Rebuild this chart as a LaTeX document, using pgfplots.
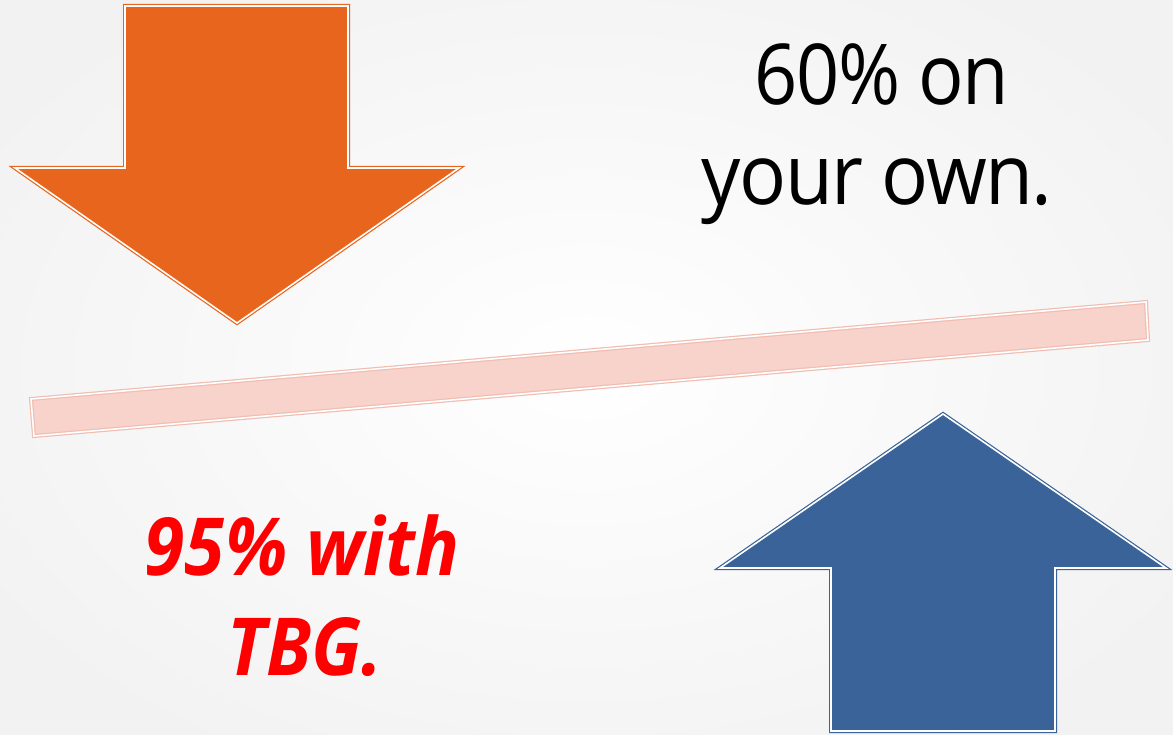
\documentclass[border=0pt]{standalone}
\usepackage{pgfplots}
\pgfplotsset{compat=1.18}
\usepackage{graphicx}
\usepackage{fontspec}
\setmainfont{Open Sans}
\newfontfamily\slidefont[LetterSpace=-2]{Open Sans}
\newfontfamily\redfont{Open Sans}[BoldItalicFont={* Bold Italic}]
\definecolor{arrowOrange}{HTML}{E8651E}
\definecolor{arrowBlue}{HTML}{3A6499}
\definecolor{barPink}{HTML}{F7D3CB}
\definecolor{barEdge}{HTML}{F2BDB1}
\begin{document}
\begin{tikzpicture}
\begin{axis}[
  width=1173pt, height=735pt, scale only axis,
  xmin=0, xmax=1173, ymin=0, ymax=735, y dir=reverse,
  hide axis, clip=true,
]
% background
\addplot[draw=none, inner color=white, middle color=white, outer color=black!5] coordinates {(-100,-80) (1273,-80) (1273,815) (-100,815)} -- cycle;
% pink bar
\addplot[fill=barPink, draw=barEdge, line width=1.2pt, double=white, double distance=1.6pt]
  coordinates {(31,399) (1146,302) (1148,340) (34,436)} -- cycle;
% orange arrow
\addplot[fill=arrowOrange, draw=arrowOrange, line width=1.2pt, double=white, double distance=1.6pt, line join=miter]
  coordinates {(125,6) (348,6) (348,168) (459,168) (237,323) (15,168) (125,168)} -- cycle;
% blue arrow
\addplot[fill=arrowBlue, draw=arrowBlue, line width=1.2pt, double=white, double distance=1.6pt, line join=miter]
  coordinates {(943,414) (1166,568) (1055,568) (1055,731) (831,731) (831,568) (720,568)} -- cycle;
% texts
\node[anchor=base, inner sep=0pt, font=\slidefont\fontsize{84}{100}\selectfont] at (axis cs:882,105) {\scalebox{0.90}[1]{60\% on}};
\node[anchor=base, inner sep=0pt, font=\slidefont\fontsize{84}{100}\selectfont] at (axis cs:877,205) {\scalebox{0.93}[1]{your own.}};
\node[anchor=base, inner sep=0pt, text=red, font=\redfont\bfseries\itshape\fontsize{80}{100}\selectfont] at (axis cs:302,575) {\scalebox{0.91}[1]{95\% with}};
\node[anchor=base, inner sep=0pt, text=red, font=\redfont\bfseries\itshape\fontsize{80}{100}\selectfont] at (axis cs:305,675) {\scalebox{0.91}[1]{TBG.}};
\end{axis}
\end{tikzpicture}
\end{document}
